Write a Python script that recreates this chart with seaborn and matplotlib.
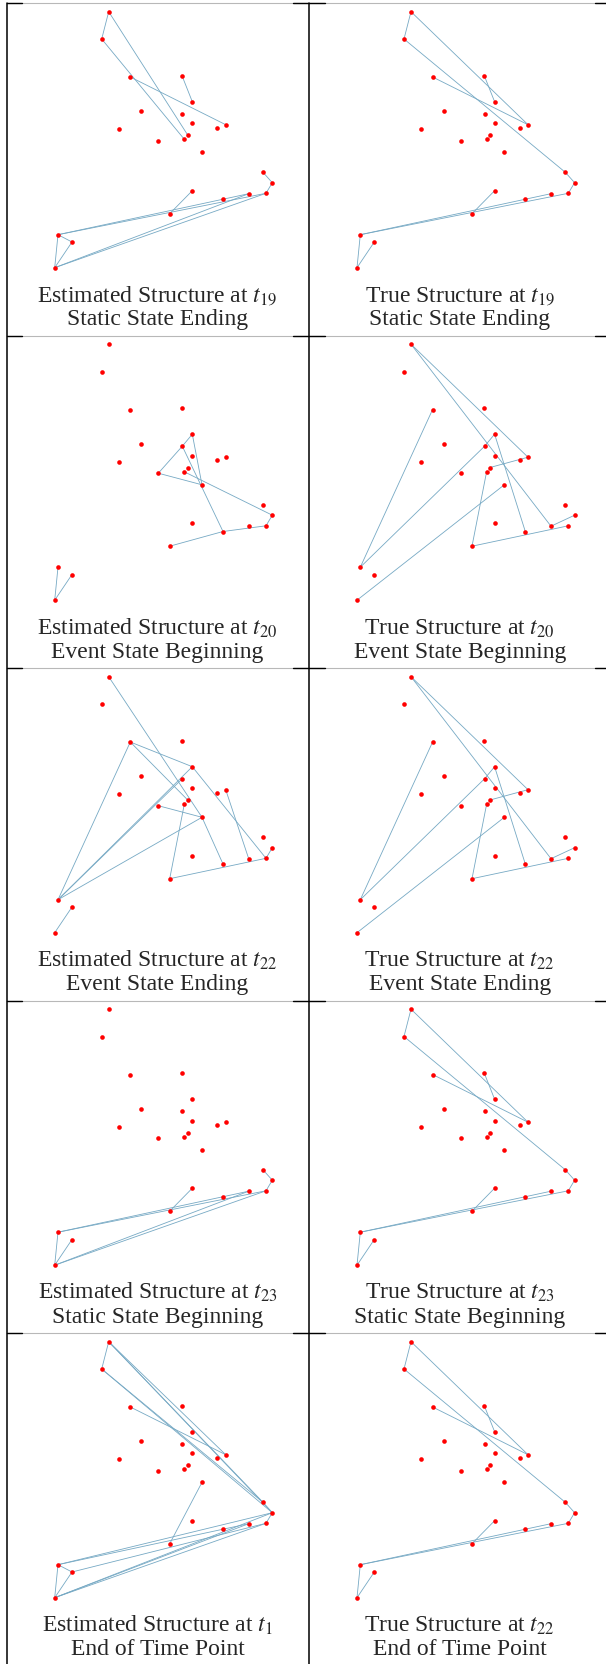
import matplotlib
matplotlib.use("Agg")
import matplotlib.pyplot as plt
import seaborn as sns
import pandas as pd

# node layout (same for every panel), in panel pixel units
node_names = list("ABCDEFGHIJKLMNOPQRSTUVWXY")
node_x = [108.7, 101.7, 130.3, 182.0, 192.3, 141.3, 182.3, 192.3, 217.3, 225.7,
          118.7, 187.7, 184.3, 158.3, 202.0, 263.0, 272.3, 192.3, 248.7, 266.0,
          223.0, 169.7, 58.0, 72.0, 54.7]
node_y = [11.7, 39.0, 77.0, 75.7, 101.7, 111.0, 113.7, 123.0, 127.7, 124.7,
          129.0, 135.0, 139.3, 140.7, 152.3, 172.3, 182.7, 190.7, 193.7, 193.3,
          199.0, 213.7, 234.7, 242.0, 267.7]

# edges of each panel, read left-to-right, top-to-bottom
true_static = "AB AJ BP CJ DE PQ QT RV WY XY WS WT"
true_event = "AJ AS CW WG GE EU YO MV VT LJ SQ"
edges = [
    "AB AL BM CJ DE PQ QT RV WX WY XY WS WT YS YT",
    true_static,
    "NG GE EO NO MQ GU QT VU UT WY XY",
    true_event,
    "AO CW CE CL WE WG WO NO OU MV VT JS QT XY ET",
    true_event,
    "PQ QT RV WY XY WS WT YS YT",
    true_static,
    "AB AJ AP AQ BP BQ CJ OV PQ QT WX WY XY WQ WS XT YS YT YQ",
    true_static,
]
titles = [
    "Estimated Structure at $t_{19}$", "True Structure at $t_{19}$",
    "Estimated Structure at $t_{20}$", "True Structure at $t_{20}$",
    "Estimated Structure at $t_{22}$", "True Structure at $t_{22}$",
    "Estimated Structure at $t_{23}$", "True Structure at $t_{23}$",
    "Estimated Structure at $t_1$", "True Structure at $t_{22}$",
]
subtitles = [
    "Static State Ending", "Static State Ending",
    "Event State Beginning", "Event State Beginning",
    "Event State Ending", "Event State Ending",
    "Static State Beginning", "Static State Beginning",
    "End of Time Point", "End of Time Point",
]

sns.set_style("white")
plt.rcParams["font.family"] = ["Liberation Serif", "DejaVu Serif"]
plt.rcParams["mathtext.fontset"] = "stix"

nodes = pd.DataFrame({"name": node_names, "x": node_x, "y": node_y})
pos = nodes.set_index("name")

W, H = 606, 1664
col_left = [0, 302.3]
col_w = 302.3
row_h = 332.5

fig = plt.figure(figsize=(W / 100, H / 100), dpi=100)

# table rules
bg = fig.add_axes([0, 0, 1, 1])
bg.set_xlim(0, W)
bg.set_ylim(H, 0)
bg.axis("off")
for r in range(5):
    y = r * row_h + 3.3
    bg.plot([7, W], [y, y], color="#b8b8b8", lw=0.8)
    for x0, x1 in [(7, 22), (293, 325), (595, W)]:
        bg.plot([x0, x1], [y, y], color="black", lw=1.0)
for x in [7, 308.5]:
    bg.plot([x, x], [3.3, H], color="black", lw=1.1)

for i in range(10):
    r, c = divmod(i, 2)
    ax = fig.add_axes([col_left[c] / W, 1 - (r + 1) * row_h / H, col_w / W, row_h / H])
    ax.patch.set_alpha(0)
    for pair in edges[i].split():
        a, b = pair[0], pair[1]
        ax.plot([pos.loc[a, "x"], pos.loc[b, "x"]], [pos.loc[a, "y"], pos.loc[b, "y"]],
                color="#76a9c4", lw=0.6, zorder=1)
    sns.scatterplot(data=nodes, x="x", y="y", ax=ax, color="red", s=11,
                    linewidth=0, zorder=3, legend=False)
    ax.text(157.5, 301.7, titles[i], ha="center", va="baseline", fontsize=17)
    ax.text(157.5, 325, subtitles[i], ha="center", va="baseline", fontsize=17)
    ax.set_xlim(0, col_w)
    ax.set_ylim(row_h, 0)
    ax.axis("off")

fig.savefig("out.png", dpi=100)
